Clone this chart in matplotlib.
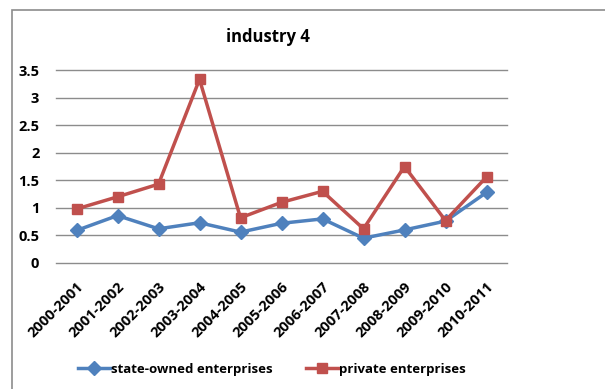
import matplotlib.pyplot as plt
from matplotlib.patches import Rectangle

plt.rcParams['font.family'] = ['Open Sans', 'DejaVu Sans']

periods = ['2000-2001', '2001-2002', '2002-2003', '2003-2004', '2004-2005', '2005-2006',
           '2006-2007', '2007-2008', '2008-2009', '2009-2010', '2010-2011']
state_owned = [0.59, 0.86, 0.62, 0.73, 0.56, 0.72, 0.80, 0.45, 0.60, 0.76, 1.28]
private = [0.98, 1.20, 1.43, 3.33, 0.82, 1.10, 1.30, 0.62, 1.75, 0.77, 1.56]

fig = plt.figure(figsize=(6.05, 3.89), dpi=100)
fig.patches.append(Rectangle((12 / 605, -0.1), 1.0, 1 - 10 / 389 + 0.1, transform=fig.transFigure,
                             fill=False, edgecolor='#8c8c8c', linewidth=1.2))

ax = fig.add_axes([56 / 605, 1 - 263 / 389, 451 / 605, 193 / 389])
x = range(len(periods))
ax.plot(x, state_owned, color='#4F81BD', linewidth=2.5, marker='D', markersize=7,
        label='state-owned enterprises')
ax.plot(x, private, color='#C0504D', linewidth=2.5, marker='s', markersize=7,
        label='private enterprises')

ax.set_xlim(-0.5, len(periods) - 0.5)
ax.set_ylim(0, 3.5)
ax.set_yticks([0, 0.5, 1, 1.5, 2, 2.5, 3, 3.5])
ax.set_yticklabels(['0', '0.5', '1', '1.5', '2', '2.5', '3', '3.5'], fontweight='bold', fontsize=10.5)
ax.set_xticks(list(x))
ax.set_xticklabels(periods, rotation=45, ha='right', rotation_mode='anchor',
                   fontweight='bold', fontsize=10.5)
ax.tick_params(axis='y', length=0, pad=12)
ax.tick_params(axis='x', length=0, pad=12)
ax.grid(axis='y', color='#8c8c8c', linewidth=1)
for grid_line in ax.get_ygridlines():
    grid_line.set_clip_on(False)
ax.set_axisbelow(True)
for spine in ax.spines.values():
    spine.set_visible(False)

fig.text(268 / 605, 1 - 37 / 389, 'industry 4', ha='center', va='center',
         fontweight='bold', fontsize=12)
fig.legend(loc='center', bbox_to_anchor=(272 / 605, 1 - 369 / 389), ncol=2, frameon=False,
           prop={'weight': 'bold', 'size': 9.5}, handlelength=2.4, columnspacing=2.5,
           handletextpad=0.1)

fig.savefig('out.png', dpi=100)
